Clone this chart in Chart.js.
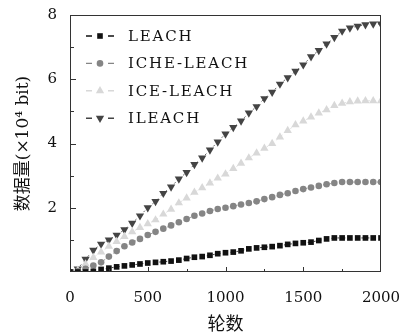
<!DOCTYPE html>
<html><head><meta charset="utf-8">
<script src="https://cdn.jsdelivr.net/npm/chart.js@4"></script>
<style>html,body{margin:0;padding:0;background:#fff}#wrap{width:403px;height:334px}</style>
</head><body><div id="wrap"><canvas id="c" width="403" height="334"></canvas></div>
<script>
const rounds = [0,50,100,150,200,250,300,350,400,450,500,550,600,650,700,750,800,850,900,950,1000,1050,1100,1150,1200,1250,1300,1350,1400,1450,1500,1550,1600,1650,1700,1750,1800,1850,1900,1950,2000];
const seriesNames = ['LEACH','ICHE-LEACH','ICE-LEACH','ILEACH'];
const leach = [0,0,0,0.02,0.08,0.12,0.16,0.19,0.22,0.25,0.28,0.3,0.32,0.34,0.37,0.42,0.46,0.48,0.52,0.57,0.6,0.62,0.66,0.72,0.75,0.77,0.79,0.82,0.86,0.89,0.91,0.93,0.98,1.03,1.06,1.06,1.06,1.06,1.06,1.06,1.06];
const icheLeach = [0,0.02,0.1,0.2,0.3,0.48,0.65,0.8,0.92,1.03,1.15,1.25,1.35,1.45,1.55,1.65,1.75,1.82,1.9,1.96,2.0,2.05,2.1,2.15,2.2,2.27,2.33,2.4,2.45,2.52,2.58,2.63,2.68,2.73,2.77,2.8,2.8,2.8,2.8,2.8,2.8];
const iceLeach = [0,0.05,0.25,0.45,0.62,0.8,0.95,1.1,1.25,1.38,1.5,1.62,1.8,1.95,2.15,2.3,2.48,2.62,2.77,2.92,3.05,3.22,3.38,3.55,3.7,3.85,4.0,4.2,4.4,4.58,4.7,4.82,4.95,5.05,5.18,5.25,5.3,5.32,5.33,5.33,5.33];
const ileach = [0,0.1,0.4,0.68,0.87,1.0,1.15,1.32,1.52,1.75,2.0,2.2,2.45,2.65,2.9,3.1,3.35,3.55,3.8,4.05,4.3,4.5,4.7,4.95,5.15,5.4,5.6,5.85,6.05,6.25,6.45,6.7,6.9,7.1,7.3,7.5,7.6,7.65,7.7,7.72,7.72];
const xTicks = [0,500,1000,1500,2000];
const yTicks = [2,4,6,8];

const colors = ['#111111','#858585','#d8d8d8','#444444'];
const styles = ['rect','circle','triangle','triangle'];
const rots = [0,0,0,180];
const radii = [4,3.3,4.8,4.8];
const values = [leach, icheLeach, iceLeach, ileach];
const SERIF = "'DejaVu Serif', 'Noto Sans CJK SC', serif";

function pts(arr){ return rounds.map((r,i)=>({x:r,y:arr[i]})); }

function drawMarker(ctx, kind, x, y, color){
  ctx.save(); ctx.fillStyle = color; ctx.beginPath();
  if (kind===0){ ctx.rect(x-2.8,y-2.8,5.6,5.6); }
  else if (kind===1){ ctx.arc(x,y,3.3,0,Math.PI*2); }
  else if (kind===2){ const r=4.8; ctx.moveTo(x,y-r); ctx.lineTo(x+r*0.866,y+r/2); ctx.lineTo(x-r*0.866,y+r/2); ctx.closePath(); }
  else { const r=4.8; ctx.moveTo(x,y+r); ctx.lineTo(x+r*0.866,y-r/2); ctx.lineTo(x-r*0.866,y-r/2); ctx.closePath(); }
  ctx.fill(); ctx.restore();
}

const frame = {
  id:'frame',
  afterDraw(chart){
    const ctx = chart.ctx, a = chart.chartArea;
    const xs = chart.scales.x, ys = chart.scales.y;
    ctx.save();
    ctx.strokeStyle = '#333'; ctx.lineWidth = 1;
    ctx.strokeRect(a.left+0.5, a.top+0.5, a.right-a.left-1, a.bottom-a.top-1);
    ctx.beginPath();
    [500,1000,1500].forEach(v=>{ const px=Math.round(xs.getPixelForValue(v))+0.5; ctx.moveTo(px,a.bottom); ctx.lineTo(px,a.bottom-5); });
    [250,750,1250,1750].forEach(v=>{ const px=Math.round(xs.getPixelForValue(v))+0.5; ctx.moveTo(px,a.bottom); ctx.lineTo(px,a.bottom-3); });
    [2,4,6].forEach(v=>{ const py=Math.round(ys.getPixelForValue(v))+0.5; ctx.moveTo(a.left,py); ctx.lineTo(a.left+6,py); });
    [1,3,5,7].forEach(v=>{ const py=Math.round(ys.getPixelForValue(v))+0.5; ctx.moveTo(a.left,py); ctx.lineTo(a.left+4,py); });
    ctx.stroke();
    const y0 = 36, dy = 27.4;
    seriesNames.forEach((name,i)=>{
      const y = y0 + i*dy;
      ctx.strokeStyle = colors[i]; ctx.lineWidth = 1.4;
      ctx.beginPath(); ctx.moveTo(86,y); ctx.lineTo(92,y); ctx.moveTo(108,y); ctx.lineTo(114,y); ctx.stroke();
      drawMarker(ctx, i, 100, y, colors[i]);
      ctx.fillStyle = '#111'; ctx.font = "15px " + SERIF; ctx.textBaseline='middle'; ctx.textAlign='left';
      try{ ctx.letterSpacing = '1.8px'; }catch(e){}
      ctx.fillText(name, 128, y+1);
      try{ ctx.letterSpacing = '0px'; }catch(e){}
    });
    ctx.restore();
  }
};

new Chart(document.getElementById('c'), {
  type:'line',
  data:{ datasets: values.map((v,i)=>({
    label: seriesNames[i], data: pts(v),
    borderColor: colors[i], borderWidth: 0.8, borderDash:[2,4],
    pointStyle: styles[i], rotation: rots[i], pointRadius: radii[i],
    pointBackgroundColor: colors[i], pointBorderWidth: 0, pointBorderColor: colors[i],
    fill:false, tension:0
  })) },
  options:{
    responsive:false, animation:false, devicePixelRatio:1,
    layout:{ padding:{ left:0, top:15, right:22, bottom:0 } },
    plugins:{ legend:{display:false}, tooltip:{enabled:false} },
    scales:{
      x:{ type:'linear', min:0, max:2000,
        afterBuildTicks(s){ s.ticks = xTicks.map(v=>({value:v})); },
        afterFit(s){ s.height = 62; s.paddingLeft = 0; s.paddingRight = 0; },
        grid:{ drawOnChartArea:false, drawTicks:false }, border:{ display:false },
        ticks:{ padding:17, color:'#111', font:{ family:SERIF, size:15 }, maxRotation:0, callback:v=>String(v) },
        title:{ display:true, text:'轮数', color:'#111', font:{ family:SERIF, size:18, lineHeight:1.0 }, padding:{top:0,bottom:0} }
      },
      y:{ type:'linear', min:0, max:8,
        afterBuildTicks(s){ s.ticks = yTicks.map(v=>({value:v})); },
        afterFit(s){ s.width = 70; s.paddingTop = 0; s.paddingBottom = 0; },
        grid:{ drawOnChartArea:false, drawTicks:false }, border:{ display:false },
        ticks:{ padding:13, color:'#111', font:{ family:SERIF, size:15 }, callback:v=>String(v) },
        title:{ display:true, text:'数据量(×10⁴ bit)', color:'#111', font:{ family:SERIF, size:17 }, padding:{top:13,bottom:0} }
      }
    }
  },
  plugins:[frame]
});
</script></body></html>
